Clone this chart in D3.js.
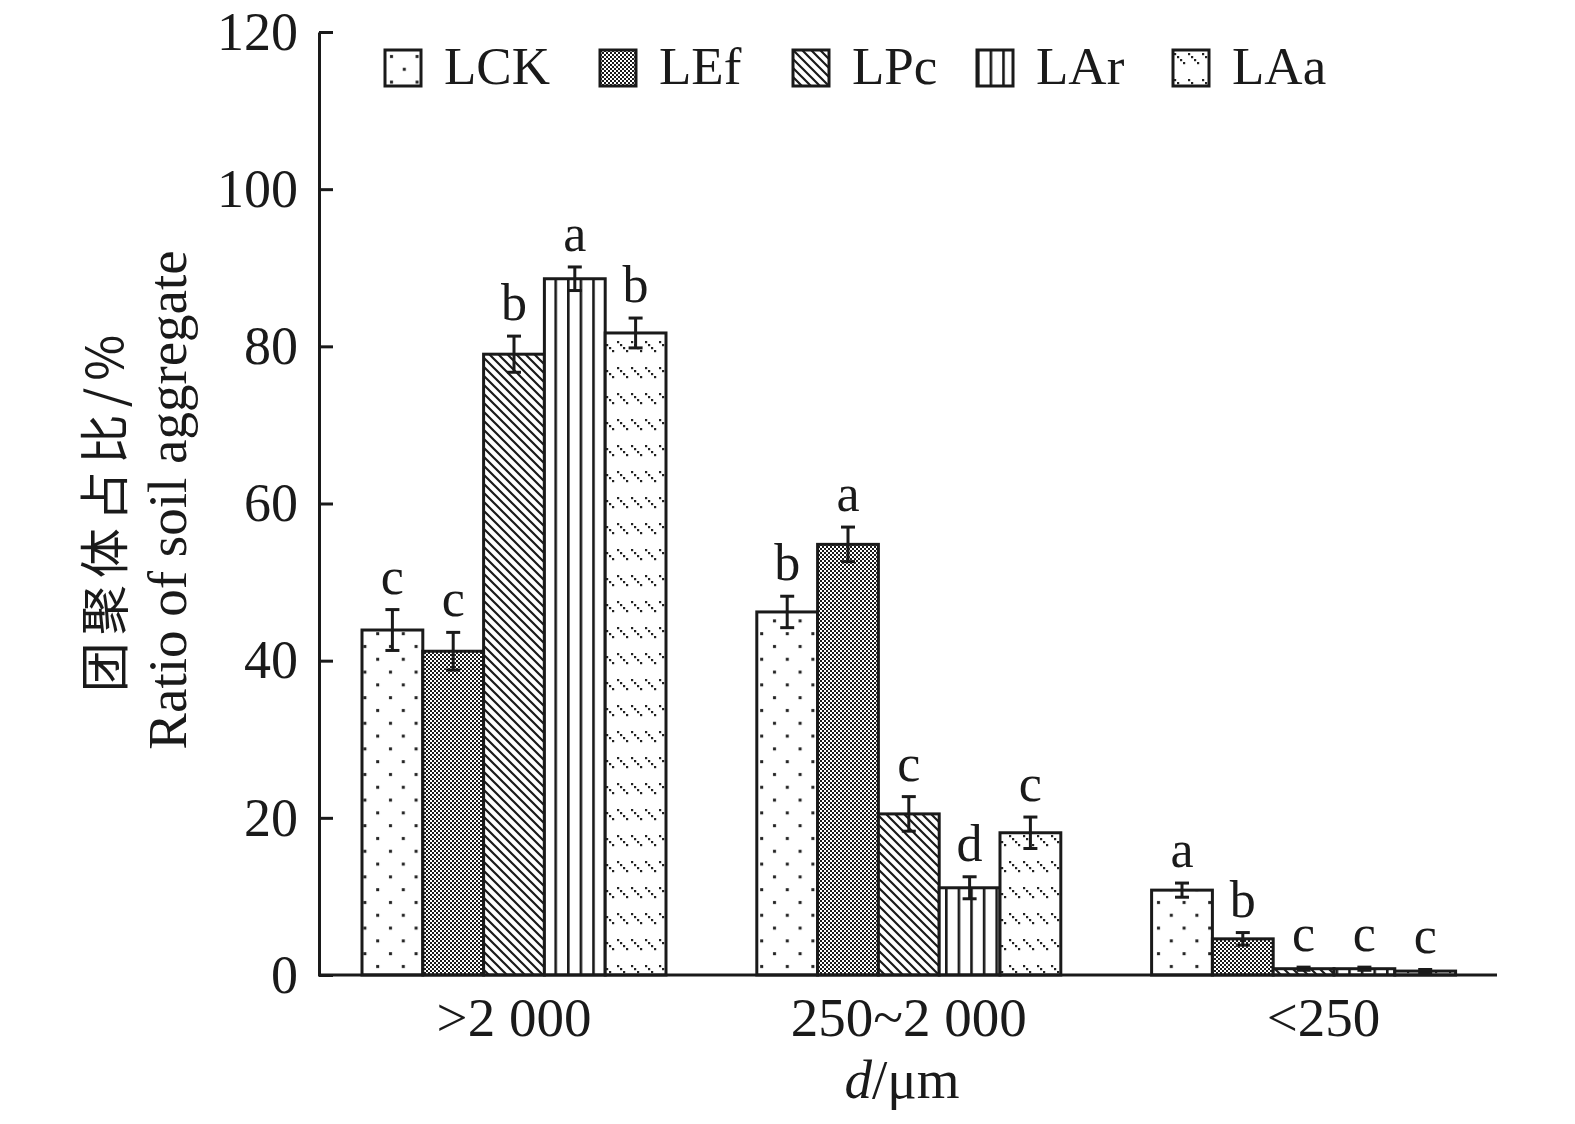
<!DOCTYPE html>
<html><head><meta charset="utf-8">
<script src="https://cdn.jsdelivr.net/npm/d3@7"></script>
<style>body{margin:0;background:#fff}</style>
</head><body>
<svg id="c" width="1575" height="1124"></svg>
<script>
const categories = [">2 000", "250~2 000", "<250"];
const seriesNames = ["LCK", "LEf", "LPc", "LAr", "LAa"];
const values = {
  LCK: [43.9, 46.2, 10.8],
  LEf: [41.2, 54.8, 4.6],
  LPc: [79.0, 20.5, 0.8],
  LAr: [88.6, 11.1, 0.8],
  LAa: [81.7, 18.1, 0.5]
};
const errors = {
  LCK: [2.6, 2.0, 0.9],
  LEf: [2.4, 2.2, 0.8],
  LPc: [2.3, 2.2, 0.2],
  LAr: [1.5, 1.4, 0.2],
  LAa: [1.9, 2.0, 0.2]
};
const letters = {
  LCK: ["c", "b", "a"],
  LEf: ["c", "a", "b"],
  LPc: ["b", "c", "c"],
  LAr: ["a", "d", "c"],
  LAa: ["b", "c", "c"]
};
const yTicks = [0, 20, 40, 60, 80, 100, 120];

const svg = d3.select("#c");
const serif = "'Liberation Serif','DejaVu Serif',serif";
const defs = svg.append("defs");

function pat(id, w, h) {
  const p = defs.append("pattern").attr("id", id).attr("patternUnits", "userSpaceOnUse")
    .attr("width", w).attr("height", h);
  p.append("rect").attr("width", w).attr("height", h).attr("fill", "#fff");
  return p;
}
let p = pat("pLCK", 25.6, 25.6);
p.append("rect").attr("x", 5).attr("y", 5).attr("width", 3).attr("height", 3).attr("fill", "#222");
p.append("rect").attr("x", 17.8).attr("y", 17.8).attr("width", 3).attr("height", 3).attr("fill", "#222");
p = pat("pLEf", 4, 4);
p.append("rect").attr("x", 0).attr("y", 0).attr("width", 2).attr("height", 2).attr("fill", "#1a1a1a");
p.append("rect").attr("x", 2).attr("y", 2).attr("width", 2).attr("height", 2).attr("fill", "#1a1a1a");
p = pat("pLPc", 9, 9);
p.append("path").attr("d", "M-1,-1L10,10M-1,8L1,10M8,-1L10,1").attr("stroke", "#1a1a1a").attr("stroke-width", 2.2);
p = pat("pLAr", 12.6, 10);
p.append("rect").attr("x", 0).attr("y", 0).attr("width", 2.6).attr("height", 10).attr("fill", "#1a1a1a");
p = pat("pLAa", 14, 26);
[[1,3],[4,6],[7,9],[10,12]].forEach(([x,y]) =>
  p.append("rect").attr("x", x).attr("y", y).attr("width", 2.2).attr("height", 2.2).attr("fill", "#222"));

const fills = {LCK: "url(#pLCK)", LEf: "url(#pLEf)", LPc: "url(#pLPc)", LAr: "url(#pLAr)", LAa: "url(#pLAa)"};

const x0 = d3.scaleBand().domain(categories).range([316.6, 1501]).paddingInner(0.23).paddingOuter(0.115);
const x1 = d3.scaleBand().domain(seriesNames).range([0, x0.bandwidth()]);
const y = d3.scaleLinear().domain([0, 120]).range([975, 32]);

const data = [];
categories.forEach((c, i) => seriesNames.forEach(s => data.push({c, s, v: values[s][i], e: errors[s][i], l: letters[s][i]})));

svg.append("g").selectAll("rect").data(data).join("rect")
  .attr("x", d => x0(d.c) + x1(d.s))
  .attr("y", d => y(d.v))
  .attr("width", x1.bandwidth())
  .attr("height", d => y(0) - y(d.v))
  .attr("fill", d => fills[d.s])
  .attr("stroke", "#1a1a1a").attr("stroke-width", 3);

const eg = svg.append("g").attr("stroke", "#1a1a1a").attr("stroke-width", 3);
data.forEach(d => {
  const cx = x0(d.c) + x1(d.s) + x1.bandwidth() / 2;
  const lo = Math.max(0, d.v - d.e);
  eg.append("line").attr("x1", cx).attr("x2", cx).attr("y1", y(d.v + d.e)).attr("y2", y(lo));
  eg.append("line").attr("x1", cx - 7).attr("x2", cx + 7).attr("y1", y(d.v + d.e)).attr("y2", y(d.v + d.e));
  eg.append("line").attr("x1", cx - 7).attr("x2", cx + 7).attr("y1", y(lo)).attr("y2", y(lo));
});

svg.append("g").selectAll("text").data(data).join("text")
  .attr("x", d => x0(d.c) + x1(d.s) + x1.bandwidth() / 2)
  .attr("y", d => y(d.v + d.e) - 16)
  .attr("text-anchor", "middle")
  .attr("font-family", serif).attr("font-size", 52).attr("fill", "#1a1a1a")
  .text(d => d.l);

const ya = svg.append("g").attr("transform", "translate(319,0)")
  .call(d3.axisLeft(y).tickValues(yTicks).tickSize(-14).tickSizeOuter(0).tickPadding(21));
ya.select(".domain").attr("stroke", "#1a1a1a").attr("stroke-width", 3);
ya.selectAll(".tick line").attr("stroke", "#1a1a1a").attr("stroke-width", 3);
ya.selectAll(".tick text").attr("font-family", serif).attr("font-size", 54).attr("fill", "#1a1a1a");

const xa = svg.append("g").attr("transform", "translate(0,975)")
  .call(d3.axisBottom(x0).tickSize(0).tickPadding(22));
xa.select(".domain").remove();
xa.selectAll(".tick text").attr("font-family", serif).attr("font-size", 55).attr("fill", "#1a1a1a")
  .attr("dx", (d, i) => i === 2 ? 20 : 0);
svg.append("line").attr("x1", 318).attr("x2", 1497).attr("y1", 975).attr("y2", 975)
  .attr("stroke", "#1a1a1a").attr("stroke-width", 3);

const xt = svg.append("text").attr("x", 902).attr("y", 1098).attr("text-anchor", "middle")
  .attr("font-family", serif).attr("font-size", 55).attr("fill", "#1a1a1a");
xt.append("tspan").attr("font-style", "italic").text("d");
xt.append("tspan").text("/μm");

svg.append("text").attr("transform", "translate(123,510) rotate(-90)").attr("text-anchor", "middle")
  .attr("font-family", "'Noto Sans CJK SC',sans-serif").attr("font-size", 50).attr("letter-spacing", 7)
  .attr("fill", "#1a1a1a").text("团聚体占比/%");
svg.append("text").attr("transform", "translate(186,500) rotate(-90)").attr("text-anchor", "middle")
  .attr("font-family", serif).attr("font-size", 55).attr("fill", "#1a1a1a").text("Ratio of soil aggregate");

const legendX = [385, 600, 793, 977, 1173];
const lg = svg.append("g").selectAll("g").data(seriesNames).join("g")
  .attr("transform", (d, i) => `translate(${legendX[i]},50)`);
lg.append("rect").attr("width", 36).attr("height", 36).attr("fill", d => fills[d])
  .attr("stroke", "#1a1a1a").attr("stroke-width", 3);
lg.append("text").attr("x", 59).attr("y", 34).attr("font-family", serif).attr("font-size", 53)
  .attr("fill", "#1a1a1a").text(d => d);
</script>
</body></html>
